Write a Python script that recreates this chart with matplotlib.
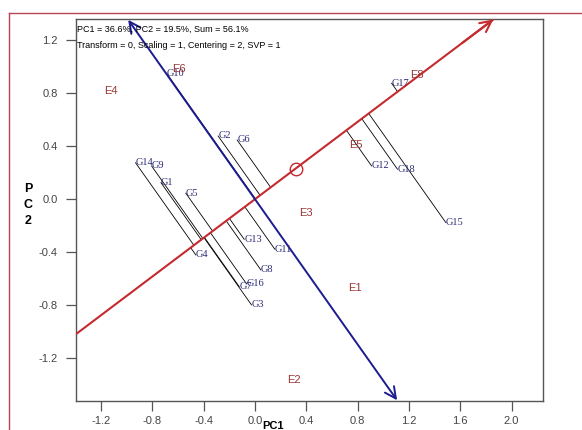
import numpy as np
import matplotlib
matplotlib.use("Agg")
import matplotlib.pyplot as plt
from matplotlib.lines import Line2D

# Genotype scores (PC1, PC2)
genotypes = ["G1", "G2", "G3", "G4", "G5", "G6", "G7", "G8", "G9",
             "G10", "G11", "G12", "G13", "G14", "G15", "G16", "G17", "G18"]
g_pc1 = [-0.733, -0.287, -0.027, -0.461, -0.539, -0.139, -0.123, 0.046, -0.806,
         -0.689, 0.155, 0.909, -0.084, -0.931, 1.488, -0.065, 1.065, 1.111]
g_pc2 = [0.125, 0.477, -0.798, -0.421, 0.045, 0.447, -0.660, -0.534, 0.251,
         0.950, -0.378, 0.251, -0.303, 0.275, -0.177, -0.640, 0.875, 0.226]

# Environment scores (PC1, PC2)
environments = ["E1", "E2", "E3", "E4", "E5", "E6", "E8"]
e_pc1 = [0.776, 0.304, 0.396, -1.121, 0.790, -0.590, 1.263]
e_pc2 = [-0.673, -1.364, -0.103, 0.816, 0.407, 0.985, 0.934]

# Average environment coordinate
avg_env = (0.317, 0.2314)

x_ticks = [-1.2, -0.8, -0.4, 0.0, 0.4, 0.8, 1.2, 1.6, 2.0]
y_ticks = [-1.2, -0.8, -0.4, 0.0, 0.4, 0.8, 1.2]

header_1 = "PC1 = 36.6%, PC2 = 19.5%, Sum = 56.1%"
header_2 = "Transform = 0, Scaling = 1, Centering = 2, SVP = 1"

RED = "#c42a2e"
BLUE = "#1c1c8e"
GCOL = "#2b2b78"
ECOL = "#9a3636"

fig = plt.figure(figsize=(5.82, 4.30), dpi=100)
ax = fig.add_axes([76 / 582, 1 - 400.7 / 430, 467 / 582, 381.7 / 430])
xlim = (-1.395, 2.245)
ylim = (-1.521, 1.360)
ax.set_xlim(*xlim)
ax.set_ylim(*ylim)

# Average-environment axis direction and its perpendicular
u = np.array(avg_env) / np.hypot(*avg_env)
v = np.array([u[1], -u[0]])

# ATC abscissa (red arrow)
t_left = xlim[0] / u[0]
t_tip = 2.30
ax.plot([t_left * u[0], t_tip * u[0]], [t_left * u[1], t_tip * u[1]],
        color=RED, lw=1.5, zorder=3, solid_capstyle="butt")
ax.annotate("", xy=(t_tip * u[0], t_tip * u[1]),
            xytext=((t_tip - 0.3) * u[0], (t_tip - 0.3) * u[1]),
            arrowprops=dict(arrowstyle="->", color=RED, lw=1.5,
                            mutation_scale=20, shrinkA=0, shrinkB=0),
            zorder=3)

# ATC ordinate (blue double arrow)
t_top, t_bot = -1.676, 1.879
ax.annotate("", xy=(t_bot * v[0], t_bot * v[1]),
            xytext=(t_top * v[0], t_top * v[1]),
            arrowprops=dict(arrowstyle="<->", color=BLUE, lw=1.4,
                            mutation_scale=20, shrinkA=0, shrinkB=0),
            zorder=3)

# Average environment marker
ax.plot([avg_env[0]], [avg_env[1]], marker="o", ms=9, mfc="none",
        mec=RED, mew=1.0, zorder=4)

# Projection lines from genotypes onto the ATC abscissa
for x, y in zip(g_pc1, g_pc2):
    p = np.array([x, y])
    foot = np.dot(p, u) * u
    ax.plot([x, foot[0]], [y, foot[1]], color="black", lw=0.6, zorder=2)

# Genotype labels
for name, x, y in zip(genotypes, g_pc1, g_pc2):
    ax.text(x, y, name, ha="left", va="center", color=GCOL, fontsize=7.5,
            family=["Liberation Serif", "DejaVu Serif"], zorder=5)

# Environment labels
for name, x, y in zip(environments, e_pc1, e_pc2):
    ax.text(x, y, name, ha="center", va="center", color=ECOL, fontsize=8,
            family=["Liberation Sans", "DejaVu Sans"], zorder=5)

# Header text
ax.text(0.003, 0.985, header_1, transform=ax.transAxes, ha="left", va="top",
        fontsize=6.5, family=["Liberation Sans", "DejaVu Sans"], color="black")
ax.text(0.003, 0.943, header_2, transform=ax.transAxes, ha="left", va="top",
        fontsize=6.5, family=["Liberation Sans", "DejaVu Sans"], color="black")

# Axes styling
ax.set_xticks(x_ticks)
ax.set_yticks(y_ticks)
ax.set_xticklabels([f"{t:.1f}" for t in x_ticks])
ax.set_yticklabels([f"{t:.1f}" for t in y_ticks])
ax.tick_params(direction="out", length=7, width=0.9, color="#555555",
               labelsize=8, labelcolor="#444444")
ax.tick_params(axis="y", pad=6)
ax.tick_params(axis="x", pad=4)
for lab in ax.get_xticklabels() + ax.get_yticklabels():
    lab.set_family(["Liberation Sans", "DejaVu Sans"])
for s in ax.spines.values():
    s.set_color("#555555")
    s.set_linewidth(1.0)

# Axis titles
fig.text(262 / 582, 1 - 421 / 430, "PC1", ha="left", va="top", fontsize=8,
         fontweight="bold", family=["Liberation Sans", "DejaVu Sans"])
fig.text(28 / 582, 1 - 205 / 430, "P\nC\n2", ha="center", va="center",
         fontsize=9, fontweight="bold", linespacing=1.45,
         family=["Liberation Sans", "DejaVu Sans"])

# Outer frame
fy = 1 - 12.7 / 430
fx = 9 / 582
fig.add_artist(Line2D([fx, 1], [fy, fy], transform=fig.transFigure,
                      color="#b84452", lw=1.0))
fig.add_artist(Line2D([fx, fx], [0, fy], transform=fig.transFigure,
                      color="#b84452", lw=1.0))

fig.savefig("out.png", dpi=100)
